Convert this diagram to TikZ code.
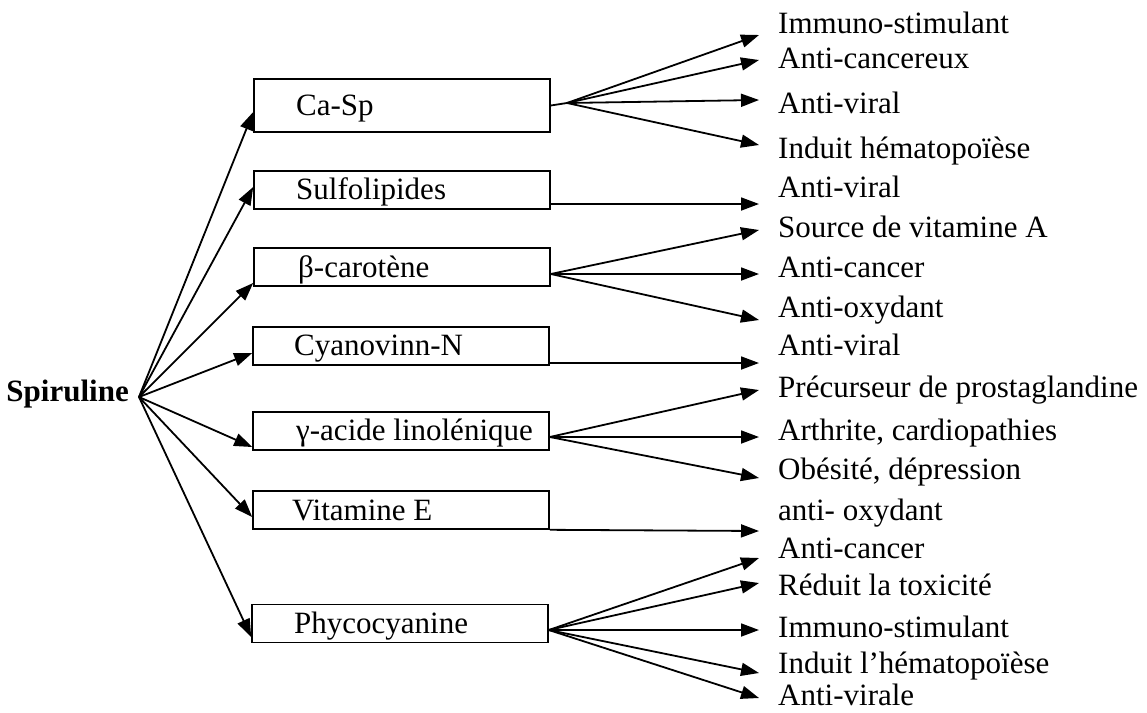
\documentclass[tikz,border=0pt]{standalone}
\usepackage{fontspec}
\setmainfont{Liberation Serif}
\usetikzlibrary{arrows.meta}
\begin{document}
\begin{tikzpicture}[x=1pt,y=-1pt,
  box/.style={draw, line width=1.6pt, minimum width=296pt, minimum height=38pt, inner sep=0pt},
  lbl/.style={inner sep=0pt, font=\fontsize{31}{36}\selectfont, anchor=base west},
  conn/.style={line width=1.8pt, -{Triangle[length=18pt,width=13pt]}},
  plainline/.style={line width=1.8pt}]
\useasboundingbox (0,0) rectangle (1147,712);

% root
\node[lbl, font=\bfseries\fontsize{31}{36}\selectfont, anchor=base east] (spir) at (129,401) {Spiruline};
\coordinate (s0) at (139,397);

% boxes
\node[box, minimum height=53pt] (casp) at (402,105.5) {};
\node[box] (sulfo) at (402,190) {};
\node[box] (beta) at (402,267) {};
\node[box] (cyano) at (401,346) {};
\node[box] (gamma) at (401,431) {};
\node[box] (vite) at (401,510) {};
\node[box] (phyco) at (400,623.5) {};

% box texts
\node[lbl] (tcasp) at (296,115) {Ca-Sp};
\node[lbl] (tsulfo) at (296,199) {Sulfolipides};
\node[lbl] (tbeta) at (298,277) {β-carotène};
\node[lbl] (tcyano) at (294,355) {Cyanovinn-N};
\node[lbl] (tgamma) at (296,440) {γ-acide linolénique};
\node[lbl] (tvite) at (292,520) {Vitamine E};
\node[lbl] (tphyco) at (294,633) {Phycocyanine};

% right labels
\node[lbl] (r1) at (778,33) {Immuno-stimulant};
\node[lbl] (r2) at (778,68) {Anti-cancereux};
\node[lbl] (r3) at (778,113) {Anti-viral};
\node[lbl] (r4) at (778,158) {Induit hématopoïèse};
\node[lbl] (r5) at (778,197) {Anti-viral};
\node[lbl] (r6) at (778,237) {Source de vitamine A};
\node[lbl] (r7) at (778,277) {Anti-cancer};
\node[lbl] (r8) at (778,317) {Anti-oxydant};
\node[lbl] (r9) at (778,355) {Anti-viral};
\node[lbl] (r10) at (778,397) {Précurseur de prostaglandine};
\node[lbl] (r11) at (778,440) {Arthrite, cardiopathies};
\node[lbl] (r12) at (778,479) {Obésité, dépression};
\node[lbl] (r13) at (778,520) {anti- oxydant};
\node[lbl] (r14) at (778,558) {Anti-cancer};
\node[lbl] (r15) at (778,595) {Réduit la toxicité};
\node[lbl] (r16) at (778,637) {Immuno-stimulant};
\node[lbl] (r17) at (778,673) {Induit l’hématopoïèse};
\node[lbl] (r18) at (778,705) {Anti-virale};

% left fan
\draw[conn] (s0) -- ([yshift=-6.5pt]casp.west);
\draw[conn] (s0) -- ([yshift=3pt]sulfo.west);
\draw[conn] (s0) -- ([yshift=-16pt]beta.west);
\draw[conn] (s0) -- ([yshift=-7pt]cyano.west);
\draw[conn] (s0) -- ([yshift=-16pt]gamma.west);
\draw[conn] (s0) -- ([yshift=-7pt]vite.west);
\draw[conn] (s0) -- ([yshift=-13.5pt]phyco.west);

% Ca-Sp fan
\coordinate (f1) at (567,103);
\draw[plainline] (casp.east) -- (f1);
\draw[conn] (f1) -- ([xshift=-19pt,yshift=-2pt]r1.base west);
\draw[conn] (f1) -- ([xshift=-19pt,yshift=8pt]r2.base west);
\draw[conn] (f1) -- ([xshift=-19pt,yshift=13pt]r3.base west);
\draw[conn] (f1) -- ([xshift=-19pt,yshift=13pt]r4.base west);

% Sulfolipides
\draw[conn] ([yshift=-14pt]sulfo.east) -- ([xshift=-19pt,yshift=-7pt]r5.base west);

% beta-carotene fan
\draw[conn] ([yshift=-7pt]beta.east) -- ([xshift=-19pt,yshift=7pt]r6.base west);
\draw[conn] ([yshift=-7pt]beta.east) -- ([xshift=-19pt,yshift=3pt]r7.base west);
\draw[conn] ([yshift=-7pt]beta.east) -- ([xshift=-19pt,yshift=-3pt]r8.base west);

% Cyanovinn-N
\draw[conn] ([yshift=-17pt]cyano.east) -- ([xshift=-19pt,yshift=-8pt]r9.base west);

% gamma fan
\draw[conn] ([yshift=-6pt]gamma.east) -- ([xshift=-19pt,yshift=7pt]r10.base west);
\draw[conn] ([yshift=-6pt]gamma.east) -- ([xshift=-19pt,yshift=3pt]r11.base west);
\draw[conn] ([yshift=-6pt]gamma.east) -- ([xshift=-19pt,yshift=1pt]r12.base west);

% Vitamine E
\draw[conn] (vite.south east) -- ([xshift=-19pt,yshift=-11pt]r13.base west);

% Phycocyanine fan
\draw[conn] ([yshift=-6.5pt]phyco.east) -- ([xshift=-19pt,yshift=0pt]r14.base west);
\draw[conn] ([yshift=-6.5pt]phyco.east) -- ([xshift=-19pt,yshift=12pt]r15.base west);
\draw[conn] ([yshift=-6.5pt]phyco.east) -- ([xshift=-19pt,yshift=7pt]r16.base west);
\draw[conn] ([yshift=-6.5pt]phyco.east) -- ([xshift=-19pt,yshift=0pt]r17.base west);
\draw[conn] ([yshift=-6.5pt]phyco.east) -- ([xshift=-19pt,yshift=7pt]r18.base west);
\end{tikzpicture}
\end{document}
